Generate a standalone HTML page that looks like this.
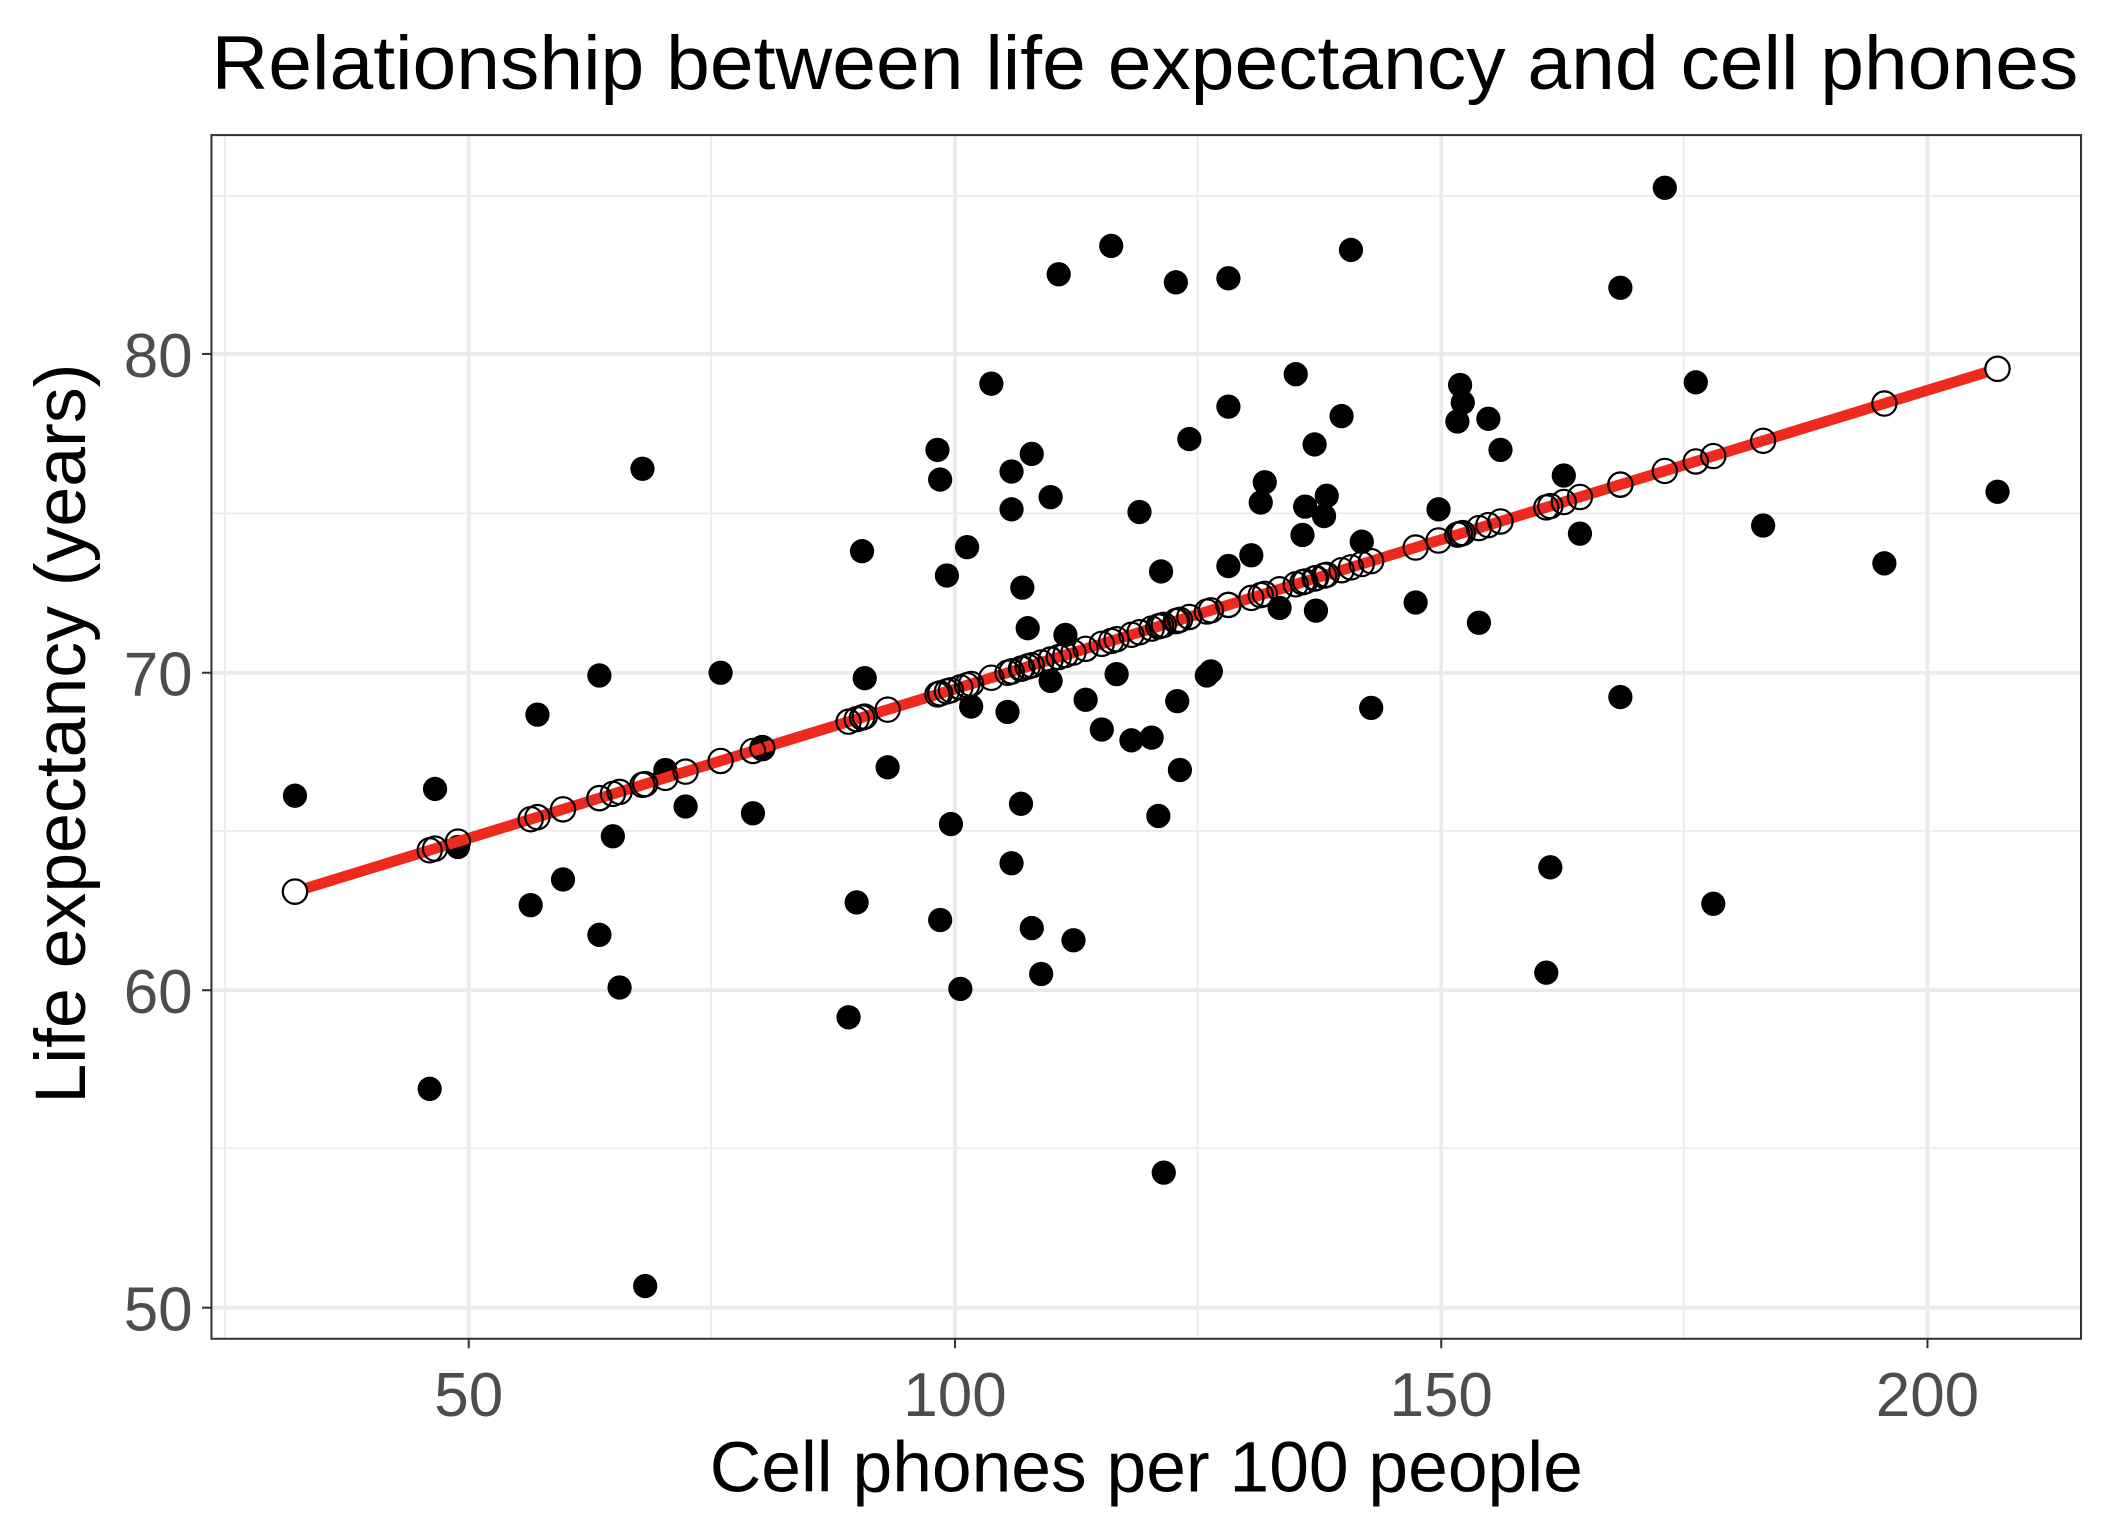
<!DOCTYPE html>
<html><head><style>
html,body{margin:0;padding:0;background:#fff;}
svg{display:block;}
text{font-family:"Liberation Sans",Arial,sans-serif;}
</style></head><body>
<svg id="s" width="2112" height="1536" viewBox="0 0 1568 1137" preserveAspectRatio="none" xmlns="http://www.w3.org/2000/svg">
<rect width="1568" height="1137" fill="#fff"/>
<g stroke="#ebebeb" stroke-width="1.3">
<line x1="167" y1="100" x2="167" y2="991"/><line x1="528" y1="100" x2="528" y2="991"/><line x1="889" y1="100" x2="889" y2="991"/><line x1="1250" y1="100" x2="1250" y2="991"/>
<line x1="157" y1="145" x2="1545" y2="145"/><line x1="157" y1="380" x2="1545" y2="380"/><line x1="157" y1="615" x2="1545" y2="615"/><line x1="157" y1="850" x2="1545" y2="850"/>
</g>
<g stroke="#ebebeb" stroke-width="2.8">
<line x1="348" y1="100" x2="348" y2="991"/><line x1="709" y1="100" x2="709" y2="991"/><line x1="1070" y1="100" x2="1070" y2="991"/><line x1="1431" y1="100" x2="1431" y2="991"/>
<line x1="157" y1="262" x2="1545" y2="262"/><line x1="157" y1="498" x2="1545" y2="498"/><line x1="157" y1="733" x2="1545" y2="733"/><line x1="157" y1="968" x2="1545" y2="968"/>
</g>
<g id="pts"></g>
<rect x="157" y="100" width="1388" height="891" fill="none" stroke="#333" stroke-width="1.5"/>
<g stroke="#333" stroke-width="1.5">
<line x1="348" y1="991" x2="348" y2="998"/><line x1="709" y1="991" x2="709" y2="998"/><line x1="1070" y1="991" x2="1070" y2="998"/><line x1="1431" y1="991" x2="1431" y2="998"/>
<line x1="150" y1="262" x2="157" y2="262"/><line x1="150" y1="498" x2="157" y2="498"/><line x1="150" y1="733" x2="157" y2="733"/><line x1="150" y1="968" x2="157" y2="968"/>
</g>
<g fill="#4d4d4d" font-size="46" text-anchor="middle">
<text x="348" y="1048">50</text><text x="709" y="1048">100</text><text x="1070" y="1048">150</text><text x="1431" y="1048">200</text>
</g>
<g fill="#4d4d4d" font-size="46" text-anchor="end">
<text x="143" y="279">80</text><text x="143" y="515">70</text><text x="143" y="750">60</text><text x="143" y="985">50</text>
</g>
<text x="851" y="1104" font-size="53" text-anchor="middle">Cell phones per 100 people</text>
<text transform="translate(63,543) rotate(-90)" font-size="53" text-anchor="middle">Life expectancy (years)</text>
<text x="157" y="66" font-size="56" textLength="1386" lengthAdjust="spacingAndGlyphs">Relationship between life expectancy and cell phones</text>
</svg>
<script>
var B=[[219,589],[319,806],[323,584],[340,627],[399,529],[394,670],[418,651],[445,500],[445,692],[455,619],[460,731],[477,347],[479,952],[494,570],[509,597],[535,498],[559,602],[566,553],[630,753],[636,668],[640,408],[642,502],[659,568],[696,333],[698,355],[698,681],[703,426],[706,610],[713,732],[718,405],[721,523],[736,284],[748,527],[751,349],[751,377],[751,639],[758,595],[759,435],[763,465],[766,336],[766,687],[773,721],[780,368],[780,504],[786,203],[791,470],[797,696],[806,518],[818,540],[825,182],[829,499],[840,548],[846,379],[855,546],[860,604],[862,423],[864,868],[873,209],[874,519],[876,570],[883,325],[896,500],[899,497],[912,206],[912,301],[912,419],[929,411],[936,372],[939,357],[950,450],[962,277],[967,396],[969,375],[976,329],[977,452],[983,382],[985,367],[996,308],[1003,185],[1011,401],[1018,524],[1051,446],[1068,377],[1082,312],[1084,285],[1086,298],[1098,461],[1105,310],[1114,333],[1148,720],[1151,642],[1161,352],[1173,395],[1203,213],[1203,516],[1236,139],[1259,283],[1272,669],[1309,389],[1399,417],[1483,364]];
var g=document.getElementById('pts'),h='';
B.forEach(function(p){h+='<circle cx="'+p[0]+'" cy="'+p[1]+'" r="9" fill="#000"/>';});
h+='<line x1="219" y1="660" x2="1483" y2="273" stroke="#ee2a1f" stroke-width="8"/>';
B.forEach(function(p){var y=660-(p[0]-219)*0.30617;h+='<circle cx="'+p[0]+'" cy="'+y.toFixed(1)+'" r="9" fill="none" stroke="#000" stroke-width="1.6"/>';});
h+='<circle cx="219" cy="660" r="9" fill="#fff" stroke="#000" stroke-width="1.6"/><circle cx="1483" cy="273" r="9" fill="#fff" stroke="#000" stroke-width="1.6"/>';
g.innerHTML=h;
</script>
</body></html>
